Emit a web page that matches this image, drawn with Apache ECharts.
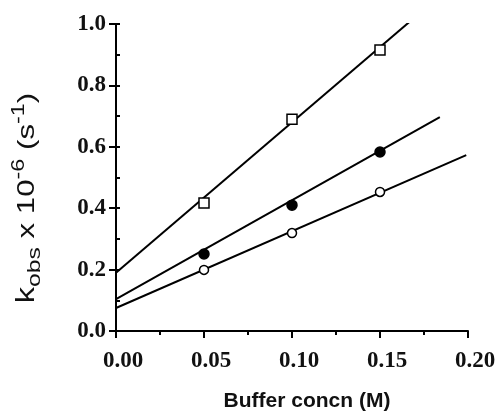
<!DOCTYPE html>
<html>
<head>
<meta charset="utf-8">
<script src="https://cdn.jsdelivr.net/npm/echarts@6/dist/echarts.min.js"></script>
<style>
html, body { margin: 0; padding: 0; background: #fff; }
#chart { width: 499px; height: 413px; }
</style>
</head>
<body>
<div id="chart"></div>
<script>
// measured points (buffer concn M, kobs x 1e-6)
var concn = [0.05, 0.10, 0.15]
var squareVals = [0.417, 0.69, 0.915]
var filledVals = [0.251, 0.41, 0.583]
var openVals = [0.199, 0.319, 0.453]

// fitted lines, start and end points
var squareFitX = [0, 0.168]
var squareFitY = [0.19, 1.013]
var filledFitX = [0, 0.184]
var filledFitY = [0.104, 0.697]
var openFitX = [0, 0.199]
var openFitY = [0.075, 0.573]

var xTicks = [0, 0.05, 0.10, 0.15, 0.20]
var yTicks = [0, 0.2, 0.4, 0.6, 0.8, 1.0]

function pairs (xs, ys) {
  return xs.map(function (x, i) { return [x, ys[i]] })
}

var myChart = echarts.init(document.getElementById('chart'))

var labelFont = {
  fontFamily: 'Liberation Serif',
  fontSize: 23,
  fontWeight: 'bold',
  color: '#111'
}

function fitSeries (xs, ys) {
  return {
    type: 'line',
    data: pairs(xs, ys),
    showSymbol: false,
    lineStyle: { color: '#000', width: 2 },
    z: 2,
    silent: true
  }
}

function pointSeries (vals, symbol, fill, size) {
  return {
    type: 'scatter',
    data: pairs(concn, vals),
    symbol: symbol,
    symbolSize: size,
    itemStyle: { color: fill, opacity: 1, borderColor: '#000', borderWidth: 1.5 },
    z: 5
  }
}

var sans = 'Liberation Sans'

var option = {
  animation: false,
  backgroundColor: '#fff',
  grid: { left: 116, right: 31, top: 24, bottom: 82, containLabel: false, outerBoundsMode: 'none' },
  xAxis: {
    type: 'value',
    min: xTicks[0],
    max: xTicks[xTicks.length - 1],
    interval: 0.05,
    name: 'Buffer concn (M)',
    nameLocation: 'middle',
    nameGap: 60,
    nameTextStyle: { fontFamily: sans, fontSize: 21, fontWeight: 'bold', color: '#111', padding: [0, 0, 0, 30] },
    axisLine: { onZero: false, lineStyle: { color: '#000', width: 2 } },
    axisTick: { length: 7, lineStyle: { color: '#000', width: 2 } },
    minorTick: { show: true, splitNumber: 2, length: 4, lineStyle: { color: '#000', width: 2 } },
    splitLine: { show: false },
    axisLabel: Object.assign({ margin: 19, padding: [0, 0, 0, 14], formatter: function (v) { return v.toFixed(2) } }, labelFont)
  },
  yAxis: [{
    type: 'value',
    min: yTicks[0],
    max: yTicks[yTicks.length - 1],
    interval: 0.2,
    axisLine: { show: true, lineStyle: { color: '#000', width: 2 } },
    axisTick: { length: 7, lineStyle: { color: '#000', width: 2 } },
    splitLine: { show: false },
    axisLabel: Object.assign({ margin: 10, formatter: function (v) { return v.toFixed(1) } }, labelFont)
  }, {
    // inward minor ticks at every 0.1
    type: 'value',
    position: 'left',
    min: 0,
    max: 1.0,
    interval: 0.1,
    axisLine: { show: false },
    axisTick: { show: true, inside: true, length: 4, lineStyle: { color: '#000', width: 2 } },
    axisLabel: { show: false },
    splitLine: { show: false }
  }],
  graphic: [{
    // y axis title, stretched along its length like the scan
    type: 'text',
    x: 27,
    y: 198,
    rotation: Math.PI / 2,
    scaleX: 1.3,
    style: {
      text: '{k|k}{sub|obs}{t| x 10}{sup|-6}{t| (s}{sup|-1}{t|)}',
      align: 'center',
      verticalAlign: 'middle',
      rich: {
        k: { fontFamily: sans, fontSize: 25, fill: '#111', lineHeight: 34, verticalAlign: 'middle' },
        t: { fontFamily: sans, fontSize: 24, fill: '#111', lineHeight: 34, verticalAlign: 'middle' },
        sub: { fontFamily: sans, fontSize: 19, fill: '#111', lineHeight: 34, verticalAlign: 'bottom' },
        sup: { fontFamily: sans, fontSize: 18, fill: '#111', lineHeight: 34, verticalAlign: 'top' }
      }
    }
  }],
  series: [
    fitSeries(squareFitX, squareFitY),
    fitSeries(filledFitX, filledFitY),
    fitSeries(openFitX, openFitY),
    pointSeries(squareVals, 'rect', '#fff', 10),
    pointSeries(filledVals, 'circle', '#000', 10),
    pointSeries(openVals, 'circle', '#fff', 9)
  ]
}

myChart.setOption(option)
window.addEventListener('resize', function () {
  myChart.resize()
})
</script>
</body>
</html>
